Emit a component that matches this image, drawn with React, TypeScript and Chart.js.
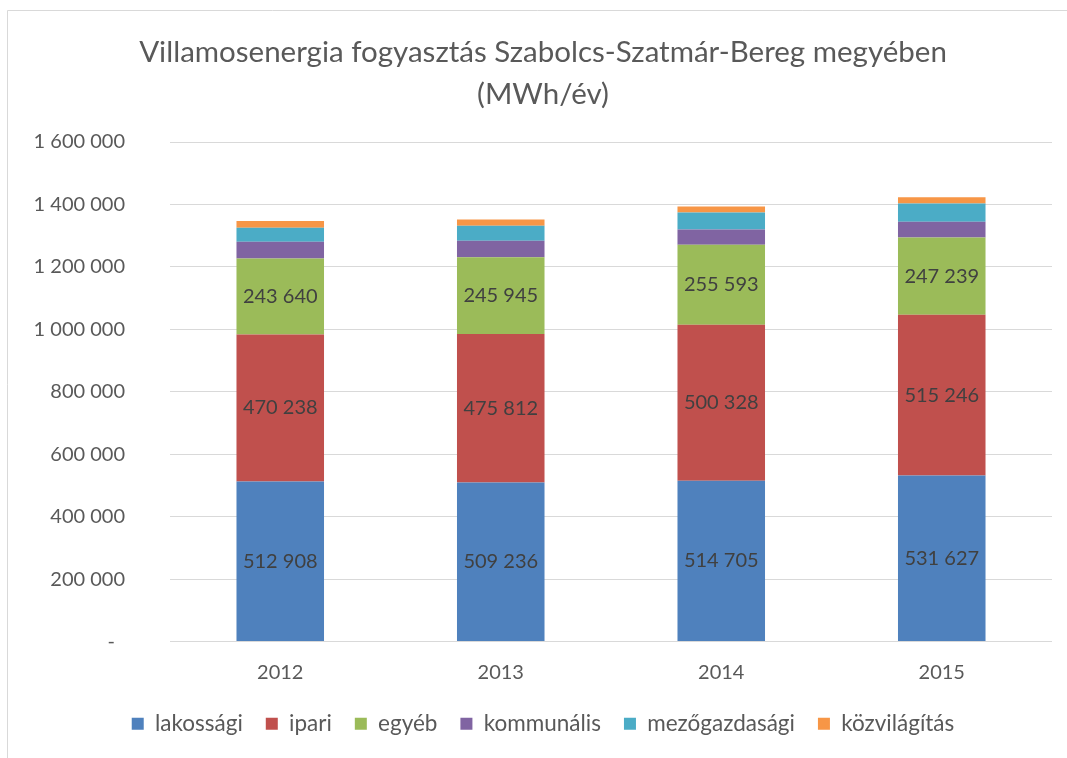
import React, { useEffect, useRef } from "react";
import { Chart, registerables } from "chart.js";

Chart.register(...registerables);

const categories = ["2012", "2013", "2014", "2015"];
const lakossagi = [512908, 509236, 514705, 531627];
const ipari = [470238, 475812, 500328, 515246];
const egyeb = [243640, 245945, 255593, 247239];
const kommunalis = [53400, 53000, 49000, 50200];
const mezogazdasagi = [44800, 48000, 54400, 58600];
const kozvilagitas = [22400, 20000, 19200, 20500];

const seriesNames = ["lakossági", "ipari", "egyéb", "kommunális", "mezőgazdasági", "közvilágítás"];
const seriesColors = ["#4F81BD", "#C0504D", "#9BBB59", "#8064A2", "#4BACC6", "#F79646"];
const labeledSeries = [0, 1, 2];

const titleLines = ["Villamosenergia fogyasztás Szabolcs-Szatmár-Bereg megyében", "(MWh/év)"];
const yMin = 0;
const yMax = 1600000;
const yStep = 200000;

const FONT = "Lato, 'Noto Sans', sans-serif";
const TEXT = "#595959";

function fmt(n: number): string {
  return Math.round(n).toString().replace(/\B(?=(\d{3})+(?!\d))/g, " ");
}

const borderPlugin = {
  id: "outerBorder",
  beforeDraw(chart: any) {
    const ctx = chart.ctx;
    ctx.save();
    ctx.fillStyle = "#ffffff";
    ctx.fillRect(0, 0, chart.width, chart.height);
    ctx.strokeStyle = "#d9d9d9";
    ctx.lineWidth = 1;
    ctx.beginPath();
    ctx.moveTo(7.5, chart.height);
    ctx.lineTo(7.5, 10.5);
    ctx.lineTo(chart.width, 10.5);
    ctx.stroke();
    ctx.restore();
  },
};

const valueLabelPlugin = {
  id: "valueLabels",
  afterDatasetsDraw(chart: any) {
    const ctx = chart.ctx;
    ctx.save();
    ctx.font = `20px ${FONT}`;
    ctx.fillStyle = "#404040";
    ctx.textAlign = "center";
    ctx.textBaseline = "middle";
    labeledSeries.forEach((di) => {
      const meta = chart.getDatasetMeta(di);
      const ds = chart.data.datasets[di];
      meta.data.forEach((el: any, i: number) => {
        const cy = (el.y + el.base) / 2;
        ctx.fillText(fmt(ds.data[i] as number), el.x, cy);
      });
    });
    ctx.restore();
  },
};

export default function App() {
  const canvasRef = useRef<HTMLCanvasElement | null>(null);

  useEffect(() => {
    document.body.style.margin = "0";
    document.body.style.overflow = "hidden";
    const canvas = canvasRef.current;
    if (!canvas) return;
    const seriesData = [lakossagi, ipari, egyeb, kommunalis, mezogazdasagi, kozvilagitas];
    const chart = new Chart(canvas, {
      type: "bar",
      data: {
        labels: categories,
        datasets: seriesData.map((d, i) => ({
          label: seriesNames[i],
          data: d,
          backgroundColor: seriesColors[i],
          borderWidth: 0,
          categoryPercentage: 1,
          barPercentage: 0.397,
        })),
      },
      options: {
        animation: false,
        responsive: true,
        maintainAspectRatio: false,
        layout: { padding: { left: 34, right: 15, top: 0, bottom: 13 } },
        plugins: {
          title: {
            display: true,
            text: titleLines,
            color: TEXT,
            font: { family: FONT, size: 29.5, weight: "normal", lineHeight: 1.424 },
            padding: { top: 31, bottom: 27 },
          },
          legend: {
            display: true,
            position: "bottom",
            labels: {
              color: TEXT,
              font: { family: FONT, size: 22.5 },
              boxWidth: 12,
              boxHeight: 12,
              padding: 23,
            },
          },
          tooltip: { enabled: false },
        },
        scales: {
          x: {
            stacked: true,
            grid: { display: false, drawTicks: false },
            border: { display: false },
            ticks: { color: TEXT, font: { family: FONT, size: 20 }, padding: 19 },
            afterFit: (scale: any) => {
              scale.height = 48;
            },
          },
          y: {
            stacked: true,
            min: yMin,
            max: yMax,
            grid: { color: "#d9d9d9", lineWidth: 1, drawTicks: false },
            border: { display: false },
            ticks: {
              stepSize: yStep,
              color: TEXT,
              font: { family: FONT, size: 20 },
              padding: 45,
              callback: (v: any) => (Number(v) === 0 ? "-\u2002" : fmt(Number(v))),
            },
            afterFit: (scale: any) => {
              scale.width = 136;
            },
          },
        },
      },
      plugins: [borderPlugin, valueLabelPlugin],
    });
    return () => chart.destroy();
  }, []);

  return (
    <div style={{ position: "fixed", left: 0, top: 0, width: 1067, height: 758 }}>
      <canvas ref={canvasRef} />
    </div>
  );
}
